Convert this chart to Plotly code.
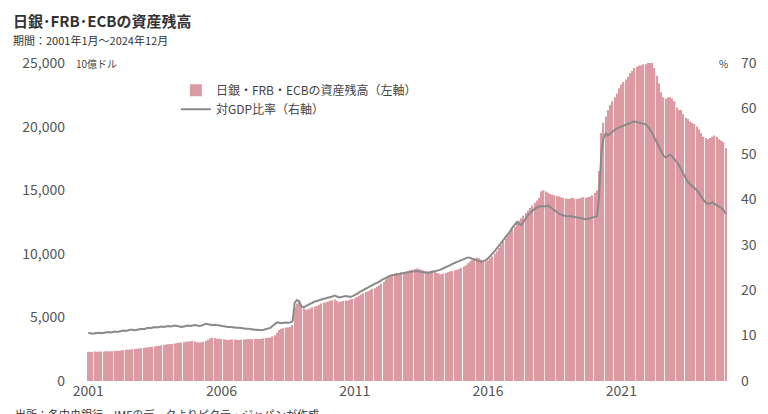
import plotly.graph_objects as go
import pandas as pd

months = pd.date_range("2001-01-01", "2024-12-01", freq="MS")

# 日銀・FRB・ECBの資産残高 (10億ドル), monthly
assets = [
    2300, 2290, 2300, 2310, 2300, 2310, 2320, 2310, 2330, 2340, 2330, 2350,  # 2001
    2350, 2370, 2380, 2400, 2420, 2450, 2460, 2480, 2500, 2510, 2530, 2560,  # 2002
    2580, 2600, 2630, 2650, 2680, 2700, 2720, 2750, 2780, 2800, 2830, 2870,  # 2003
    2880, 2900, 2920, 2950, 2980, 3000, 3020, 3050, 3080, 3100, 3120, 3150,  # 2004
    3100, 3050, 3020, 3040, 3080, 3150, 3250, 3350, 3400, 3380, 3350, 3320,  # 2005
    3300, 3280, 3250, 3230, 3250, 3270, 3260, 3240, 3230, 3250, 3270, 3280,  # 2006
    3300, 3280, 3300, 3320, 3300, 3310, 3320, 3350, 3380, 3400, 3420, 3500,  # 2007
    3600, 3800, 4000, 4100, 4150, 4200, 4200, 4250, 4400, 5800, 6100, 6300,  # 2008
    5900, 5700, 5600, 5650, 5700, 5800, 5850, 5900, 6000, 6100, 6150, 6200,  # 2009
    6250, 6300, 6350, 6400, 6300, 6200, 6250, 6300, 6350, 6300, 6400, 6450,  # 2010
    6500, 6600, 6700, 6800, 6900, 7000, 7050, 7150, 7250, 7300, 7400, 7500,  # 2011
    7650, 7800, 8000, 8200, 8300, 8400, 8450, 8500, 8500, 8550, 8550, 8600,  # 2012
    8650, 8700, 8750, 8800, 8850, 8800, 8750, 8700, 8650, 8600, 8650, 8700,  # 2013
    8600, 8500, 8450, 8400, 8450, 8500, 8550, 8600, 8650, 8700, 8750, 8800,  # 2014
    8900, 9000, 9100, 9250, 9400, 9550, 9650, 9700, 9650, 9550, 9450, 9400,  # 2015
    9500, 9650, 9800, 10000, 10200, 10450, 10700, 10950, 11200, 11450, 11700, 11900,  # 2016
    12100, 12400, 12600, 12800, 13000, 13200, 13400, 13600, 13800, 14000, 14200, 14400,  # 2017
    14900, 15000, 14900, 14800, 14700, 14650, 14600, 14550, 14500, 14450, 14400, 14350,  # 2018
    14300, 14350, 14400, 14350, 14300, 14350, 14400, 14450, 14400, 14450, 14500, 14600,  # 2019
    14800, 15000, 16500, 19500, 20300, 20800, 21300, 21700, 22000, 22300, 22600, 23000,  # 2020
    23300, 23500, 23700, 23900, 24200, 24400, 24600, 24700, 24800, 24800, 24900, 24900,  # 2021
    25000, 25100, 25000, 24600, 24000, 23400, 22700, 22300, 22200, 22300, 22300, 22200,  # 2022
    22000, 21500, 21300, 21300, 21000, 20700, 20600, 20400, 20300, 20200, 20000, 19800,  # 2023
    19500, 19200, 19100, 19000, 19100, 19200, 19300, 19200, 19000, 18900, 18800, 18300,  # 2024
]

# 対GDP比率 (%), monthly
ratio = [
    10.6, 10.5, 10.4, 10.5, 10.6, 10.6, 10.5, 10.6, 10.7, 10.8, 10.7, 10.8,  # 2001
    10.9, 10.8, 10.9, 11.0, 11.1, 11.0, 11.2, 11.3, 11.3, 11.2, 11.3, 11.4,  # 2002
    11.5, 11.4, 11.6, 11.7, 11.6, 11.8, 11.9, 11.8, 11.9, 12.0, 11.9, 12.0,  # 2003
    12.1, 12.0, 12.1, 12.2, 12.1, 12.0, 11.9, 12.0, 12.1, 12.2, 12.1, 12.2,  # 2004
    12.3, 12.2, 12.1, 12.2, 12.4, 12.6, 12.5, 12.4, 12.3, 12.4, 12.3, 12.2,  # 2005
    12.1, 12.0, 12.0, 11.9, 11.9, 11.8, 11.8, 11.7, 11.7, 11.6, 11.6, 11.5,  # 2006
    11.5, 11.4, 11.4, 11.3, 11.3, 11.2, 11.2, 11.3, 11.4, 11.5, 11.7, 12.1,  # 2007
    12.6, 12.9, 12.8, 12.7, 12.8, 12.9, 12.8, 12.9, 13.2, 17.3, 17.8, 17.5,  # 2008
    16.4, 16.2, 16.5, 16.8, 17.0, 17.3, 17.5, 17.6, 17.8, 18.0, 18.1, 18.2,  # 2009
    18.4, 18.5, 18.6, 18.8, 18.6, 18.4, 18.5, 18.6, 18.7, 18.6, 18.5, 18.7,  # 2010
    18.9, 19.2, 19.5, 19.8, 20.1, 20.4, 20.6, 20.9, 21.2, 21.4, 21.6, 21.8,  # 2011
    22.2, 22.5, 22.8, 23.0, 23.2, 23.3, 23.4, 23.5, 23.5, 23.6, 23.7, 23.8,  # 2012
    23.9, 24.0, 24.1, 24.1, 24.2, 24.1, 24.0, 23.9, 23.8, 23.8, 23.9, 24.0,  # 2013
    24.1, 24.2, 24.4, 24.6, 24.8, 25.0, 25.3, 25.5, 25.8, 26.0, 26.2, 26.4,  # 2014
    26.6, 26.8, 27.0, 27.2, 27.1, 26.9, 26.7, 26.5, 26.3, 26.2, 26.4, 26.6,  # 2015
    27.0, 27.5, 28.0, 28.6, 29.2, 29.8, 30.4, 31.0, 31.7, 32.4, 33.0, 33.8,  # 2016
    34.4, 35.0, 34.6, 34.3, 35.0, 35.8, 36.4, 37.0, 37.5, 37.9, 38.2, 38.4,  # 2017
    38.4, 38.5, 38.4, 38.6, 38.3, 37.9, 37.5, 37.1, 36.8, 36.6, 36.4, 36.3,  # 2018
    36.2, 36.3, 36.2, 36.1, 36.0, 35.9, 35.8, 35.7, 35.6, 35.7, 35.9, 36.0,  # 2019
    36.1, 36.3, 40.5, 50.0, 53.5, 54.5, 54.0, 54.5, 55.0, 55.3, 55.6, 55.8,  # 2020
    56.0, 56.3, 56.5, 56.7, 56.9, 57.0, 57.1, 57.0, 56.9, 56.8, 56.7, 56.5,  # 2021
    56.0, 55.3, 54.5, 53.5, 52.5, 51.5, 50.5, 49.6, 49.2, 49.5, 49.8, 49.4,  # 2022
    48.8, 48.3, 47.5, 46.5, 45.5, 44.6, 43.8, 43.3, 42.9, 42.6, 42.0, 41.3,  # 2023
    40.5, 39.8, 39.3, 39.0, 39.1, 39.3, 39.0, 38.7, 38.4, 38.1, 37.6, 36.8,  # 2024
]

tick_vals = ["2001-01-01", "2006-01-01", "2011-01-01", "2016-01-01", "2021-01-01"]
tick_text = ["2001", "2006", "2011", "2016", "2021"]

font = "Noto Sans CJK JP"

fig = go.Figure()
fig.add_trace(go.Bar(
    x=months, y=assets, name="日銀・FRB・ECBの資産残高（左軸）",
    marker=dict(color="#dc9aa2", line=dict(width=0)),
))
fig.add_trace(go.Scatter(
    x=months, y=ratio, name="対GDP比率（右軸）", yaxis="y2",
    mode="lines", line=dict(color="#8a8a8a", width=2),
))

fig.update_layout(
    width=768, height=414,
    paper_bgcolor="white", plot_bgcolor="white",
    font=dict(family=font, size=13, color="#555"),
    margin=dict(l=78, r=48, t=55, b=41),
    bargap=0.35,
    showlegend=True,
    legend=dict(x=0.14, y=0.96, xanchor="left", yanchor="top",
                bgcolor="rgba(0,0,0,0)", font=dict(size=12, color="#444"),
                tracegroupgap=4),
    xaxis=dict(tickvals=tick_vals, ticktext=tick_text, showgrid=False,
               range=["2000-12-01", "2025-01-01"], showline=False, ticks="",
               tickfont=dict(size=14)),
    yaxis=dict(range=[0, 25000], dtick=5000, tickformat=",", showgrid=False,
               zeroline=False, ticks="", tickfont=dict(size=14),
               ticklabelstandoff=20),
    yaxis2=dict(range=[0, 70], dtick=10, overlaying="y", side="right",
                showgrid=False, zeroline=False, ticks="", tickfont=dict(size=14),
                ticklabelstandoff=12),
    annotations=[
        dict(text="<b>日銀･FRB･ECBの資産残高</b>", x=0.0, y=1.0, xref="paper", yref="paper",
             xanchor="left", yanchor="middle", showarrow=False, xshift=-75, yshift=43,
             font=dict(size=15, color="#333")),
        dict(text="期間：2001年1月～2024年12月", x=0.0, y=1.0, xref="paper", yref="paper",
             xanchor="left", yanchor="middle", showarrow=False, xshift=-75, yshift=23,
             font=dict(size=11, color="#333")),
        dict(text="10億ドル", x=0.0, y=1.0, xref="paper", yref="paper",
             xanchor="left", yanchor="middle", showarrow=False, xshift=-12, yshift=0,
             font=dict(size=10, color="#444")),
        dict(text="%", x=1.0, y=1.0, xref="paper", yref="paper",
             xanchor="right", yanchor="middle", showarrow=False, xshift=2, yshift=0,
             font=dict(size=10, color="#444")),
        dict(text="出所：各中央銀行、IMFのデータよりピクテ・ジャパンが作成", x=0.0, y=0.0,
             xref="paper", yref="paper", xanchor="left", yanchor="middle", showarrow=False,
             xshift=-73, yshift=-33, font=dict(size=11, color="#333")),
    ],
)

fig.write_html("out.html")
